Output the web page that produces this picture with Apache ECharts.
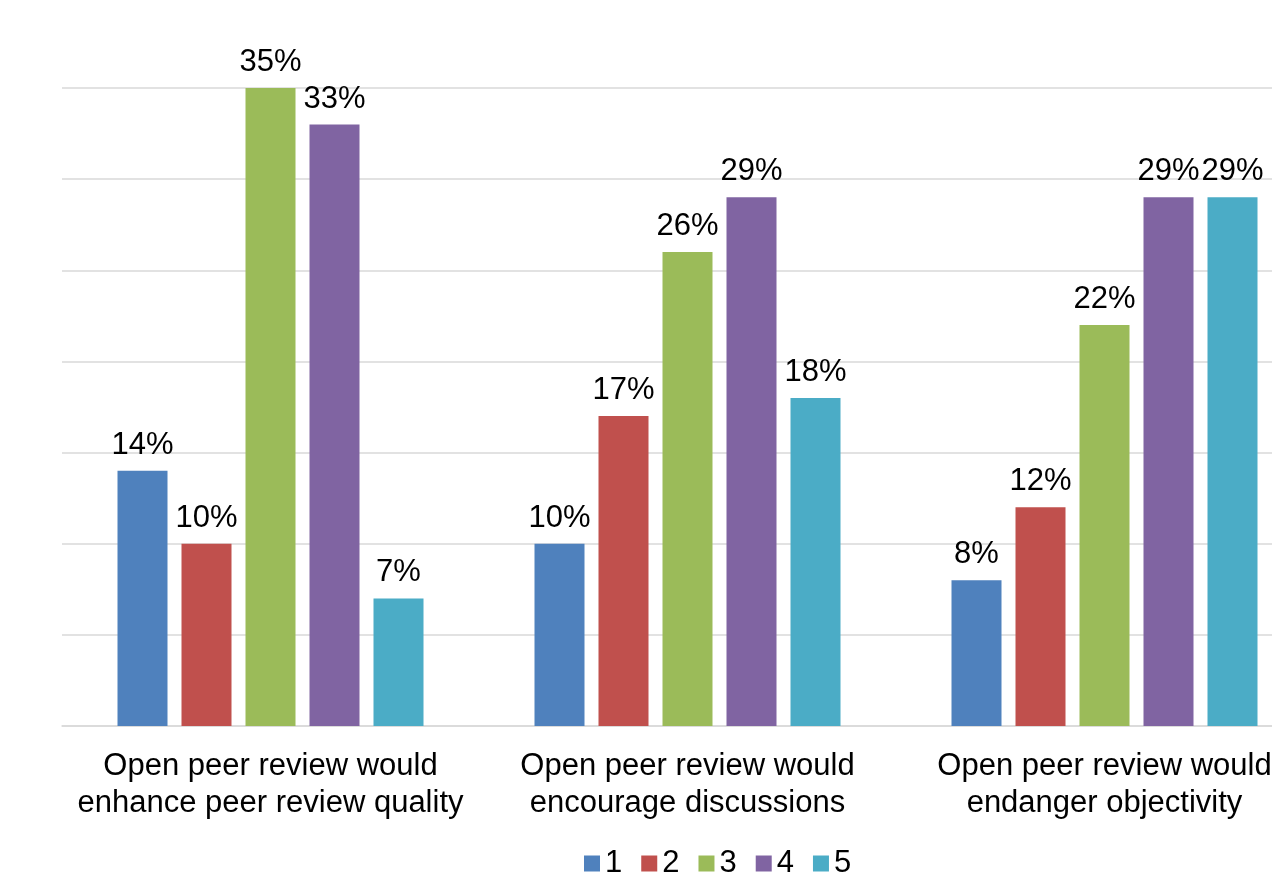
<!DOCTYPE html>
<html>
<head>
<meta charset="utf-8">
<script src="https://cdn.jsdelivr.net/npm/echarts@6/dist/echarts.min.js"></script>
<style>html,body{margin:0;padding:0;background:#fff;overflow:hidden;width:1272px;height:877px;}#c{width:1330px;height:877px;}</style>
</head>
<body>
<div id="c"></div>
<script>
const categories = [
  "Open peer review would\nenhance peer review quality",
  "Open peer review would\nencourage discussions",
  "Open peer review would\nendanger objectivity"
];
const seriesNames = ["1", "2", "3", "4", "5"];
const s1 = [14, 10, 8];
const s2 = [10, 17, 12];
const s3 = [35, 26, 22];
const s4 = [33, 29, 29];
const s5 = [7, 18, 29];
const colors = ["#4F81BD", "#C0504D", "#9BBB59", "#8064A2", "#4BACC6"];
const allValues = [s1, s2, s3, s4, s5];

const font = "Arial, 'Liberation Sans', sans-serif";
const chart = echarts.init(document.getElementById('c'));
chart.setOption({
  animation: false,
  color: colors,
  grid: { left: 62, right: 17, top: 88, bottom: 151, containLabel: false },
  legend: {
    data: seriesNames,
    left: 579, top: 843,
    itemWidth: 16, itemHeight: 16, itemGap: 19,
    icon: 'rect',
    textStyle: { fontFamily: font, fontSize: 31, color: '#000' }
  },
  xAxis: {
    type: 'category',
    data: categories,
    axisTick: { show: false },
    axisLine: { lineStyle: { color: '#D9D9D9', width: 1.5 } },
    axisLabel: { interval: 0, margin: 22, fontFamily: font, fontSize: 31, lineHeight: 37, color: '#000' }
  },
  yAxis: {
    type: 'value', min: 0, max: 35, interval: 5,
    axisLabel: { show: false },
    axisLine: { show: false },
    axisTick: { show: false },
    splitLine: { lineStyle: { color: '#D9D9D9', width: 1.5 } }
  },
  series: seriesNames.map((n, i) => ({
    name: n,
    type: 'bar',
    data: allValues[i],
    barWidth: 50,
    barGap: '28%',
    label: {
      show: true, position: 'top', distance: 10,
      formatter: p => p.value + '%',
      fontFamily: font, fontSize: 31, color: '#000'
    }
  }))
});
</script>
</body>
</html>
